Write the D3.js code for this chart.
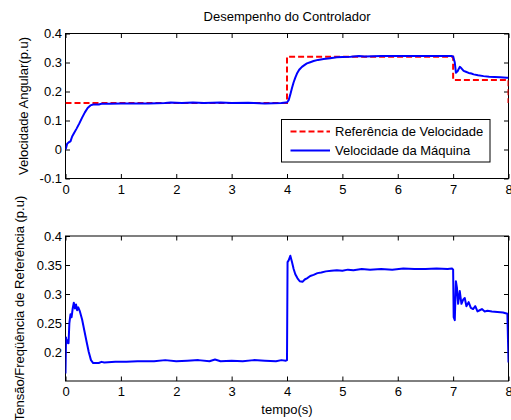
<!DOCTYPE html>
<html>
<head>
<meta charset="utf-8">
<script src="https://cdn.jsdelivr.net/npm/d3@7"></script>
<style>
  body { margin: 0; background: #fff; }
  svg { display: block; font-family: "Liberation Sans", Arial, sans-serif; }
</style>
</head>
<body>
<div id="chart"></div>
<script>
// Data:
var timeTicks = [0, 1, 2, 3, 4, 5, 6, 7, 8];
var speedTicks = [-0.1, 0, 0.1, 0.2, 0.3, 0.4];
var refTicks = [0.2, 0.25, 0.3, 0.35, 0.4];

// Speed reference (step):
var refSpeedTime  = [0, 4, 4, 7, 7, 8, 8];
var refSpeedValue = [0.16, 0.16, 0.32, 0.32, 0.24, 0.24, 0.16];

// Machine speed:
var speedTime = [0, 0.01, 0.03, 0.06, 0.09, 0.12, 0.15, 0.2, 0.25, 0.3, 0.35, 0.4, 0.45, 0.5,
  0.6, 0.65, 0.8, 1.0, 1.5, 1.8, 1.9, 2.1, 2.3, 2.5, 2.8, 3.0, 3.3, 3.6, 3.9, 3.98,
  4.0, 4.03, 4.06, 4.09, 4.12, 4.15, 4.18, 4.22, 4.27, 4.32, 4.36, 4.42, 4.48, 4.56, 4.66,
  4.78, 4.9, 5.0, 5.15, 5.3, 5.4, 5.7, 6.0, 6.5, 6.98,
  7.0, 7.03, 7.05, 7.08, 7.12, 7.15, 7.19, 7.23, 7.28, 7.33, 7.37, 7.45, 7.55, 7.65, 7.75, 7.85, 7.97, 8.0];
var speedValue = [0.0, 0.005, 0.02, 0.025, 0.028, 0.045, 0.055, 0.072, 0.09, 0.11, 0.128, 0.143, 0.152, 0.155,
  0.155, 0.158, 0.158, 0.159, 0.159, 0.16, 0.162, 0.16, 0.162, 0.16, 0.162, 0.16, 0.161, 0.159, 0.16, 0.162,
  0.162, 0.17, 0.19, 0.212, 0.232, 0.248, 0.262, 0.275, 0.285, 0.292, 0.297, 0.301, 0.305, 0.309, 0.312,
  0.315, 0.318, 0.319, 0.32, 0.322, 0.321, 0.322, 0.322, 0.322, 0.322,
  0.321, 0.3, 0.265, 0.27, 0.285, 0.28, 0.271, 0.268, 0.264, 0.262, 0.259, 0.256, 0.253, 0.251, 0.25, 0.249, 0.247, 0.247];

// Voltage/frequency reference:
var vfTime = [0, 0.01, 0.02, 0.04, 0.055, 0.07, 0.09, 0.11, 0.13, 0.15, 0.17, 0.19, 0.21, 0.23, 0.26,
  0.3, 0.34, 0.38, 0.42, 0.46, 0.5, 0.6, 0.65, 0.7, 0.9, 1.1, 1.3, 1.6, 1.8, 2.0, 2.2, 2.4, 2.6,
  2.7, 2.8, 3.0, 3.2, 3.4, 3.6, 3.8, 3.9, 3.98,
  4.0, 4.01, 4.03, 4.06, 4.09, 4.12, 4.15, 4.19, 4.23, 4.28, 4.32, 4.36, 4.42, 4.48, 4.55, 4.62,
  4.7, 4.8, 4.9, 5.0, 5.1, 5.2, 5.35, 5.5, 5.7, 5.9, 6.1, 6.3, 6.5, 6.7, 6.9, 6.98,
  7.0, 7.01, 7.03, 7.05, 7.07, 7.09, 7.12, 7.15, 7.18, 7.21, 7.24, 7.28, 7.32, 7.36, 7.4, 7.44,
  7.48, 7.52, 7.57, 7.62, 7.7, 7.8, 7.9, 7.98, 8.0];
var vfValue = [0.163, 0.225, 0.215, 0.22, 0.215, 0.25, 0.265, 0.26, 0.275, 0.285, 0.275, 0.282, 0.272, 0.277, 0.27,
  0.256, 0.237, 0.218, 0.2, 0.186, 0.181, 0.181, 0.183, 0.182, 0.183, 0.183, 0.184, 0.184, 0.186, 0.184, 0.185, 0.186, 0.184,
  0.187, 0.184, 0.185, 0.184, 0.186, 0.185, 0.184, 0.186, 0.185,
  0.186, 0.355, 0.358, 0.366, 0.355, 0.343, 0.334, 0.327, 0.322, 0.321, 0.325, 0.327, 0.331, 0.333, 0.336, 0.337,
  0.339, 0.34, 0.341, 0.34, 0.342, 0.341, 0.343, 0.342, 0.343, 0.342, 0.344, 0.343, 0.343, 0.344, 0.343, 0.344,
  0.342, 0.26, 0.255, 0.322, 0.31, 0.283, 0.305, 0.283, 0.29, 0.293, 0.279, 0.286, 0.276, 0.274, 0.279, 0.27,
  0.272, 0.274, 0.27, 0.271, 0.27, 0.269, 0.268, 0.266, 0.182];

// Figure proportions:
var width = 511,
    height = 420,
    left = 65.5,
    right = 508.5;

var svg = d3.select("#chart").append("svg")
  .attr("width", width)
  .attr("height", height)
;

var x = d3.scaleLinear()
  .domain([0, 8])
  .range([left, right])
;

function zip(ts, vs) {
  return ts.map(function(t, i) { return [t, vs[i]]; });
}

// Draw one axes box with inward ticks on all four sides:
function draw_axes(id, y, yTicks, xPad) {
  var top = y.range()[1], bottom = y.range()[0];

  svg.append("clipPath").attr("id", id)
    .append("rect")
      .attr("x", left).attr("y", top)
      .attr("width", right - left).attr("height", bottom - top)
  ;

  var fmt = function(d) { return String(+d.toFixed(2)); };

  var axes = [
    ["translate(0," + bottom + ")", d3.axisBottom(x).tickValues(timeTicks).tickFormat(fmt).tickPadding(xPad)],
    ["translate(0," + top + ")", d3.axisTop(x).tickValues(timeTicks).tickFormat("")],
    ["translate(" + left + ",0)", d3.axisLeft(y).tickValues(yTicks).tickFormat(fmt).tickPadding(3.5)],
    ["translate(" + right + ",0)", d3.axisRight(y).tickValues(yTicks).tickFormat("")]
  ];
  axes.forEach(function(a) {
    var g = svg.append("g")
      .attr("transform", a[0])
      .call(a[1].tickSizeInner(-4.5).tickSizeOuter(0))
    ;
    g.select(".domain").remove();
    g.selectAll("line").attr("stroke", "#000");
    g.selectAll("text")
      .attr("fill", "#000")
      .style("font-size", "13px")
      .style("font-family", "'Liberation Sans', Arial, sans-serif")
    ;
  });

  svg.append("rect")
    .attr("x", left).attr("y", top)
    .attr("width", right - left).attr("height", bottom - top)
    .attr("fill", "none")
    .attr("stroke", "#000")
    .attr("stroke-width", 1)
  ;
}

// Upper plot: angular speed
var y1 = d3.scaleLinear().domain([-0.1, 0.4]).range([178.5, 33.5]);
draw_axes("clip-top", y1, speedTicks, 6.5);

var line1 = d3.line().x(d => x(d[0])).y(d => y1(d[1]));

svg.append("path")
  .attr("clip-path", "url(#clip-top)")
  .attr("d", line1(zip(refSpeedTime, refSpeedValue)))
  .attr("fill", "none")
  .attr("stroke", "#ff0000")
  .attr("stroke-width", 2)
  .attr("stroke-dasharray", "6,3")
;
svg.append("path")
  .attr("clip-path", "url(#clip-top)")
  .attr("d", line1(zip(speedTime, speedValue)))
  .attr("fill", "none")
  .attr("stroke", "#0000ff")
  .attr("stroke-width", 2)
  .attr("stroke-linejoin", "round")
;

// Lower plot: voltage/frequency reference
var y2 = d3.scaleLinear().domain([0.15, 0.4]).range([381, 236]);
draw_axes("clip-bottom", y2, refTicks, 6);

var line2 = d3.line().x(d => x(d[0])).y(d => y2(d[1]));

svg.append("path")
  .attr("clip-path", "url(#clip-bottom)")
  .attr("d", line2(zip(vfTime, vfValue)))
  .attr("fill", "none")
  .attr("stroke", "#0000ff")
  .attr("stroke-width", 2)
  .attr("stroke-linejoin", "round")
;

// Texts:
svg.append("text")
  .attr("x", (left + right) / 2)
  .attr("y", 20.5)
  .attr("text-anchor", "middle")
  .style("font-size", "13px")
  .text("Desempenho do Controlador")
;
svg.append("text")
  .attr("transform", "translate(28," + (y1(0.15)) + ") rotate(-90)")
  .attr("text-anchor", "middle")
  .style("font-size", "13px")
  .text("Velocidade Angular(p.u)")
;
svg.append("text")
  .attr("transform", "translate(24," + (y2(0.275)) + ") rotate(-90)")
  .attr("text-anchor", "middle")
  .style("font-size", "13px")
  .text("Tensão/Freqüência de Referência (p.u)")
;
svg.append("text")
  .attr("x", (left + right) / 2)
  .attr("y", 414)
  .attr("text-anchor", "middle")
  .style("font-size", "13px")
  .text("tempo(s)")
;

// Legend:
var legend = svg.append("g");
legend.append("rect")
  .attr("x", 281.5).attr("y", 119.5)
  .attr("width", 208.5).attr("height", 42.5)
  .attr("fill", "#fff")
  .attr("stroke", "#000")
;
var entries = [
  { label: "Referência de Velocidade", color: "#ff0000", dash: "6,3" },
  { label: "Velocidade da Máquina", color: "#0000ff", dash: null }
];
entries.forEach(function(e, i) {
  var yy = 131.5 + i * 19;
  legend.append("line")
    .attr("x1", 290.5).attr("x2", 330)
    .attr("y1", yy).attr("y2", yy)
    .attr("stroke", e.color)
    .attr("stroke-width", 2)
    .attr("stroke-dasharray", e.dash)
  ;
  legend.append("text")
    .attr("x", 335)
    .attr("y", yy + 4.5)
    .style("font-size", "13px")
    .text(e.label)
  ;
});
</script>
</body>
</html>
